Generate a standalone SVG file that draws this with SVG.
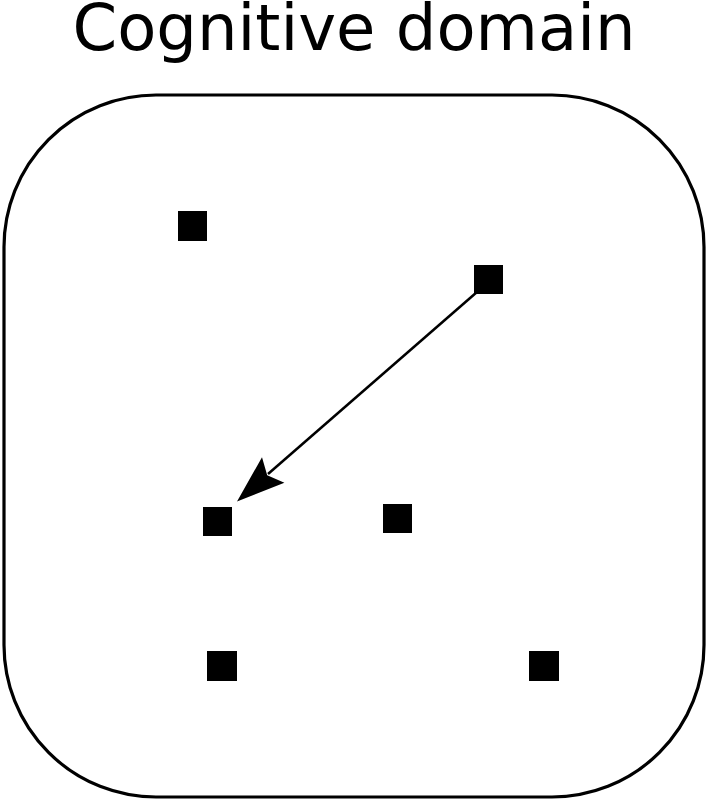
<svg xmlns="http://www.w3.org/2000/svg" width="708" height="800" viewBox="0 0 708 800">
<style>
.t{font-family:"DejaVu Sans",sans-serif;font-size:64px;fill:#000}
.n{fill:#000}
.c{stroke:#000;stroke-width:2.5;fill:none}
</style>
<rect width="708" height="800" fill="#fff"/>
<text class="t" x="354" y="50" text-anchor="middle">Cognitive domain</text>
<g id="domain"><rect x="4" y="95" width="700" height="702" rx="152" ry="152" fill="none" stroke="#000" stroke-width="3.2"/></g>
<g id="n1"><rect class="n" x="178" y="211" width="29" height="30"/></g>
<g id="n2"><rect class="n" x="474" y="265" width="29" height="29"/></g>
<g id="n3"><rect class="n" x="203" y="507" width="29" height="29"/></g>
<g id="n4"><rect class="n" x="383" y="504" width="29" height="29"/></g>
<g id="n5"><rect class="n" x="207" y="651" width="30" height="30"/></g>
<g id="n6"><rect class="n" x="529" y="651" width="30" height="30"/></g>
<g id="connectors">
<line class="c" x1="477" y1="292" x2="268" y2="474"/>
<path d="M237,501.5 L262,457.2 L267.2,475.2 L284.4,482.8 Z" fill="#000"/>
</g>
</svg>
